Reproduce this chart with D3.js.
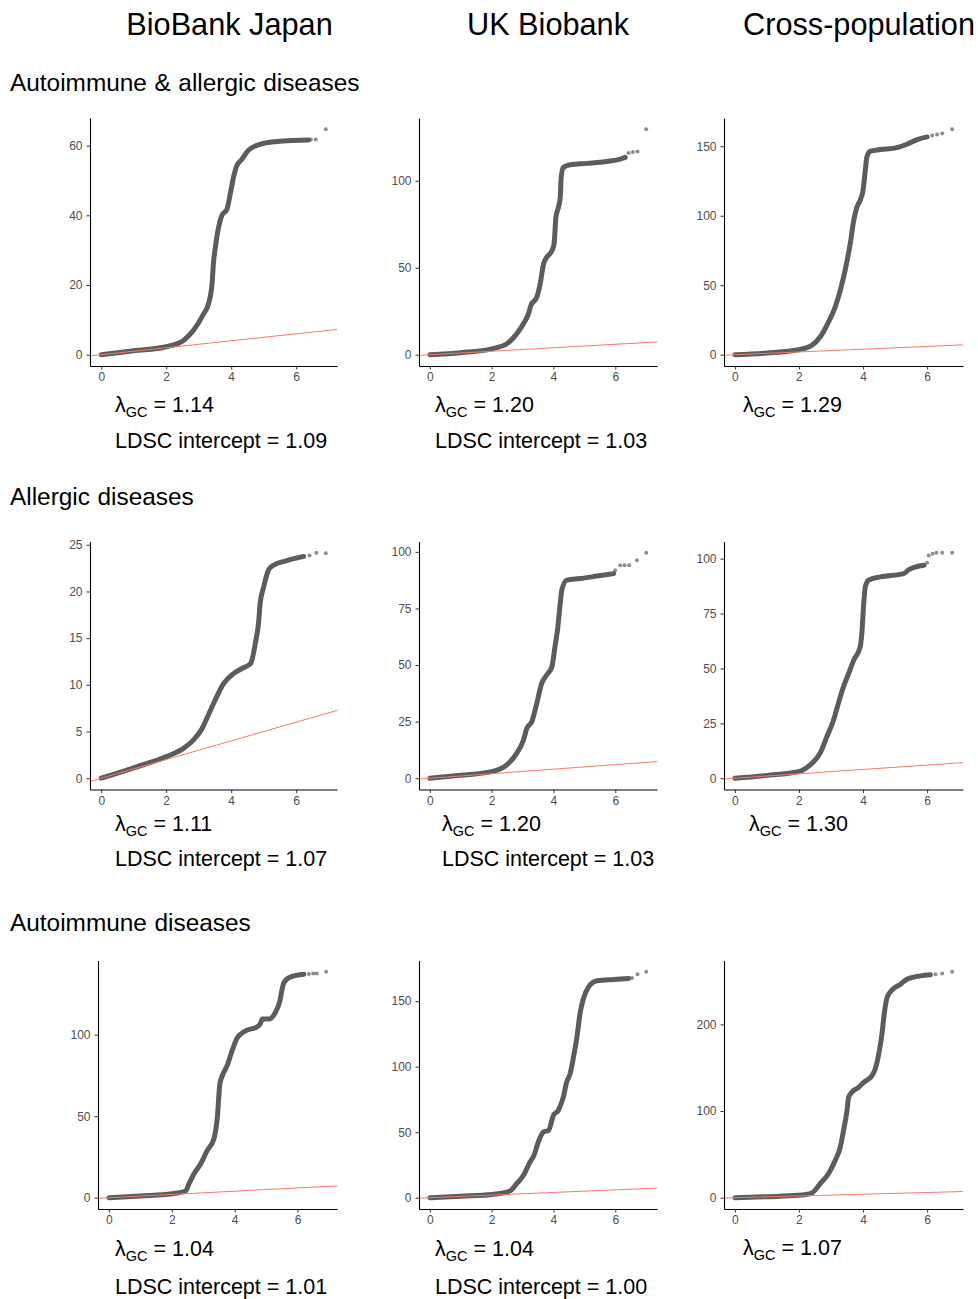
<!DOCTYPE html>
<html>
<head>
<meta charset="utf-8">
<script src="https://cdn.jsdelivr.net/npm/d3@7"></script>
<style>
    body { margin: 0; background: #fff; }
    svg text { font-family: "Liberation Sans", Arial, sans-serif; }
    .axis { opacity: 0.99; }
</style>
</head>
<body>
<div id="svg-container"></div>
<script>
// headers
const columnTitles = ['BioBank Japan', 'UK Biobank', 'Cross-population'];
const rowTitles = ['Autoimmune & allergic diseases', 'Allergic diseases', 'Autoimmune diseases'];

// axis ticks
const xTicks = [0, 2, 4, 6];
const yTicks = [
    [[0, 20, 40, 60], [0, 50, 100], [0, 50, 100, 150]],
    [[0, 5, 10, 15, 20, 25], [0, 25, 50, 75, 100], [0, 25, 50, 75, 100]],
    [[0, 50, 100], [0, 50, 100, 150], [0, 100, 200]]
];

// genomic inflation / LDSC intercept (no LDSC for cross-population)
const lambdaGC = [[1.14, 1.20, 1.29], [1.11, 1.20, 1.30], [1.04, 1.04, 1.07]];
const ldscIntercept = [[1.09, 1.03, null], [1.07, 1.03, null], [1.01, 1.00, null]];

// QQ points: [expected -log10 P, observed -log10 P]
// "Curve" = dense band of points, "Tail" = the few isolated top hits
const bbjAllCurve = [[0, 0], [1, 1.15], [2, 2.3], [2.53, 4.1], [2.84, 7.0], [3.15, 11.7], [3.3, 14.6], [3.41, 20.3], [3.46, 27.0], [3.5, 30.0], [3.61, 36.5], [3.71, 39.9], [3.87, 41.8], [3.97, 46.1], [4.07, 50.9], [4.17, 54.2], [4.33, 56.1], [4.53, 58.7], [4.89, 60.4], [5.41, 61.2], [5.92, 61.5], [6.38, 61.6]];
const bbjAllTail = [[6.45, 61.8], [6.6, 61.8], [6.91, 64.7]];
const ukbAllCurve = [[0, 0], [1, 1.2], [2, 3.4], [2.49, 6.3], [2.81, 12.0], [3.03, 17.8], [3.19, 23.5], [3.27, 28.3], [3.46, 33.1], [3.57, 40.7], [3.68, 52.2], [3.78, 56.0], [3.95, 59.8], [4.02, 63.7], [4.08, 79], [4.16, 84.7], [4.22, 90.4], [4.25, 101.9], [4.32, 107.6], [4.54, 109.2], [5.08, 110], [5.73, 111.1], [6.16, 112.4], [6.32, 113.4]];
const ukbAllTail = [[6.43, 115.9], [6.57, 116.6], [6.72, 116.8], [7.0, 129.6]];
const crossAllCurve = [[0, 0], [1, 1.3], [1.98, 3.6], [2.4, 6.7], [2.66, 12.7], [2.92, 23.5], [3.13, 34.3], [3.29, 46.3], [3.44, 60.7], [3.6, 79.9], [3.71, 96.7], [3.81, 106.3], [3.91, 111.1], [4.0, 118.3], [4.07, 132.7], [4.12, 142.3], [4.23, 146.4], [4.54, 147.6], [5.06, 149], [5.37, 151.4], [5.69, 154.8], [6.0, 156.7]];
const crossAllTail = [[6.16, 157.7], [6.31, 158.4], [6.47, 159.1], [6.78, 162.2]];

const bbjAllergicCurve = [[0, 0], [1, 1.12], [2, 2.31], [2.53, 3.2], [2.84, 4.1], [3.1, 5.3], [3.3, 6.8], [3.51, 8.4], [3.76, 10.1], [4.07, 11.2], [4.33, 11.75], [4.6, 12.3], [4.74, 14.4], [4.84, 16.6], [4.89, 18.7], [5.0, 20.5], [5.15, 22.3], [5.3, 22.8], [5.71, 23.3], [6.23, 23.75]];
const bbjAllergicTail = [[6.41, 23.86], [6.62, 24.14], [6.91, 24.1]];
const ukbAllergicCurve = [[0, 0], [1, 1.3], [2, 2.9], [2.49, 5.9], [2.81, 11.0], [3.03, 16.9], [3.14, 22.1], [3.3, 25.0], [3.46, 33.1], [3.62, 41.9], [3.78, 45.6], [3.95, 49.3], [4.05, 58.1], [4.13, 65.4], [4.22, 77.2], [4.27, 83.1], [4.43, 87.5], [4.86, 88.2], [5.41, 89.3], [5.95, 90.4]];
const ukbAllergicTail = [[6.0, 91.9], [6.16, 94.1], [6.3, 94.1], [6.45, 94.1], [6.7, 96.3], [7.0, 99.6]];
const crossAllergicCurve = [[0, 0], [1, 1.3], [1.98, 3.0], [2.35, 6.1], [2.66, 11.4], [2.87, 18.9], [3.08, 26.5], [3.23, 34.1], [3.39, 41.7], [3.55, 47.7], [3.71, 53.8], [3.91, 59.8], [3.97, 67.4], [4.02, 79.5], [4.07, 87.1], [4.17, 90.2], [4.54, 91.7], [5.27, 93.2], [5.43, 95], [5.9, 97]];
const crossAllergicTail = [[6.0, 98.2], [6.05, 101.5], [6.17, 102.3], [6.29, 102.7], [6.47, 102.7], [6.78, 102.7]];

const bbjAutoCurve = [[0, 0], [1, 1.1], [2.01, 2.4], [2.44, 4.1], [2.55, 8.6], [2.71, 14.7], [2.92, 20.8], [3.13, 29.0], [3.34, 36.1], [3.45, 49.4], [3.53, 69.8], [3.61, 74.9], [3.76, 81.0], [3.92, 90.2], [4.08, 98.0], [4.35, 102.4], [4.72, 104.9], [4.82, 106.9], [4.88, 109.6], [5.09, 109.6], [5.3, 113.9], [5.44, 120.8], [5.51, 128.0], [5.57, 132.0], [5.78, 135.5], [6.2, 137.1]];
const bbjAutoTail = [[6.36, 137.3], [6.5, 137.5], [6.61, 137.6], [6.91, 138.6]];
const ukbAutoCurve = [[0, 0], [1, 1.2], [2, 2.5], [2.59, 5.1], [2.81, 10.7], [3.03, 17.1], [3.24, 27.2], [3.37, 32.3], [3.51, 42.5], [3.68, 50.2], [3.84, 51.4], [4.0, 62.9], [4.16, 66.7], [4.32, 76.9], [4.43, 88.4], [4.54, 94.7], [4.65, 107.5], [4.76, 122.7], [4.86, 140.6], [4.97, 152.0], [5.14, 160.9], [5.41, 165.5], [5.95, 166.5], [6.43, 167.3]];
const ukbAutoTail = [[6.54, 167.6], [6.72, 170.6], [7.0, 172.4]];
const crossAutoCurve = [[0, 0], [1, 1.2], [1.98, 2.7], [2.4, 5.4], [2.66, 16.1], [2.92, 27.6], [3.13, 43.0], [3.29, 58.3], [3.39, 77.5], [3.5, 100.6], [3.55, 115.9], [3.65, 121.7], [3.86, 127.4], [4.02, 133.2], [4.28, 140.9], [4.38, 148.6], [4.49, 165.8], [4.59, 188.9], [4.66, 211.9], [4.75, 231.1], [4.9, 239.5], [5.17, 246.4], [5.37, 252.2], [5.79, 256.0], [6.1, 257.2]];
const crossAutoTail = [[6.26, 258.0], [6.47, 258.7], [6.78, 260.7]];

const curves = [
    [[bbjAllCurve, bbjAllTail], [ukbAllCurve, ukbAllTail], [crossAllCurve, crossAllTail]],
    [[bbjAllergicCurve, bbjAllergicTail], [ukbAllergicCurve, ukbAllergicTail], [crossAllergicCurve, crossAllergicTail]],
    [[bbjAutoCurve, bbjAutoTail], [ukbAutoCurve, ukbAutoTail], [crossAutoCurve, crossAutoTail]]
];

// layout: panel edges (axis lines) in pixels
const rowTops = [118, 541.5, 960.5];
const rowBottoms = [366, 789.5, 1209];
const colLefts = [[90, 419, 724], [90, 419, 724], [98, 419, 724]];
const colRights = [337, 657, 963];
const statX = [[115, 435, 743], [115, 442, 749], [115, 435, 743]];
const lambdaY = [412, 831, 1256];
const ldscY = [448, 866, 1294];

const POINT_COLOR = '#5c5c5c';
const LINE_COLOR = '#f47b66';
const fmt = d3.format('.2f');

// ggplot-like 5% expansion of the data range
const expand = ([lo, hi]) => {
    const pad = (hi - lo) * 0.05;
    return [lo - pad, hi + pad];
};

const svg = d3.select('#svg-container')
    .append('svg')
    .attr('width', 978)
    .attr('height', 1299);

// column titles
svg.selectAll('.col-title')
    .data(columnTitles)
    .enter().append('text')
    .attr('class', 'col-title')
    .attr('x', (d, i) => [229.5, 548, 743][i])
    .attr('y', 35)
    .attr('text-anchor', (d, i) => i === 2 ? 'start' : 'middle')
    .attr('font-size', 30.7)
    .attr('fill', '#000')
    .text(d => d);

// row titles
svg.selectAll('.row-title')
    .data(rowTitles)
    .enter().append('text')
    .attr('class', 'row-title')
    .attr('x', 10)
    .attr('y', (d, i) => [91, 505, 931][i])
    .attr('font-size', 24.4)
    .attr('word-spacing', 0.8)
    .attr('fill', '#000')
    .text(d => d);

const drawPanel = (r, c) => {
    const [curve, tail] = curves[r][c];
    const all = curve.concat(tail);

    const x = d3.scaleLinear()
        .domain(expand(d3.extent(all, d => d[0])))
        .range([colLefts[r][c], colRights[c]]);
    const y = d3.scaleLinear()
        .domain(expand(d3.extent(all, d => d[1])))
        .range([rowBottoms[r], rowTops[r]]);

    const g = svg.append('g').attr('class', 'panel');

    // dense band of points
    const line = d3.line()
        .x(d => x(d[0]))
        .y(d => y(d[1]))
        .curve(d3.curveMonotoneX);
    g.append('path')
        .datum(curve)
        .attr('d', line)
        .attr('fill', 'none')
        .attr('stroke', POINT_COLOR)
        .attr('stroke-width', 5)
        .attr('stroke-linecap', 'round')
        .attr('stroke-linejoin', 'round');

    // isolated top points
    g.selectAll('.tail')
        .data(tail)
        .enter().append('circle')
        .attr('class', 'tail')
        .attr('cx', d => x(d[0]))
        .attr('cy', d => y(d[1]))
        .attr('r', 2)
        .attr('fill', POINT_COLOR)
        .attr('fill-opacity', 0.7);

    // y = x reference line
    const [x0, x1] = x.domain();
    g.append('line')
        .attr('x1', x(x0))
        .attr('y1', y(x0))
        .attr('x2', x(x1))
        .attr('y2', y(x1))
        .attr('stroke', LINE_COLOR)
        .attr('stroke-width', 1);

    // axes
    const xAxis = g.append('g')
        .attr('class', 'axis')
        .attr('transform', `translate(0, ${rowBottoms[r]})`)
        .call(d3.axisBottom(x).tickValues(xTicks).tickSize(3.5).tickSizeOuter(0).tickPadding(3));
    const yAxis = g.append('g')
        .attr('class', 'axis')
        .attr('transform', `translate(${colLefts[r][c]}, 0)`)
        .call(d3.axisLeft(y).tickValues(yTicks[r][c]).tickSize(3.5).tickSizeOuter(0).tickPadding(4));

    [xAxis, yAxis].forEach(a => {
        a.select('.domain').attr('stroke', '#000').attr('stroke-width', 1.1);
        a.selectAll('.tick line').attr('stroke', '#333');
        a.selectAll('.tick text')
            .attr('font-family', '"Liberation Sans", Arial, sans-serif')
            .attr('font-size', 12)
            .attr('fill', '#4d4d4d');
    });

    // lambda GC
    const lam = svg.append('text')
        .attr('x', statX[r][c])
        .attr('y', lambdaY[r] - (r === 2 && c === 2 ? 1 : 0))
        .attr('font-size', 21.5)
        .attr('fill', '#000');
    lam.append('tspan').text('\u03bb');
    lam.append('tspan').attr('font-size', 14.5).attr('dy', 5).text('GC');
    lam.append('tspan').attr('dy', -5).text(` = ${fmt(lambdaGC[r][c])}`);

    // LDSC intercept
    if (ldscIntercept[r][c] !== null) {
        svg.append('text')
            .attr('x', statX[r][c])
            .attr('y', ldscY[r])
            .attr('font-size', 21.5)
            .attr('fill', '#000')
            .text(`LDSC intercept = ${fmt(ldscIntercept[r][c])}`);
    }
};

for (let r = 0; r < 3; r++) {
    for (let c = 0; c < 3; c++) {
        drawPanel(r, c);
    }
}
</script>
</body>
</html>
